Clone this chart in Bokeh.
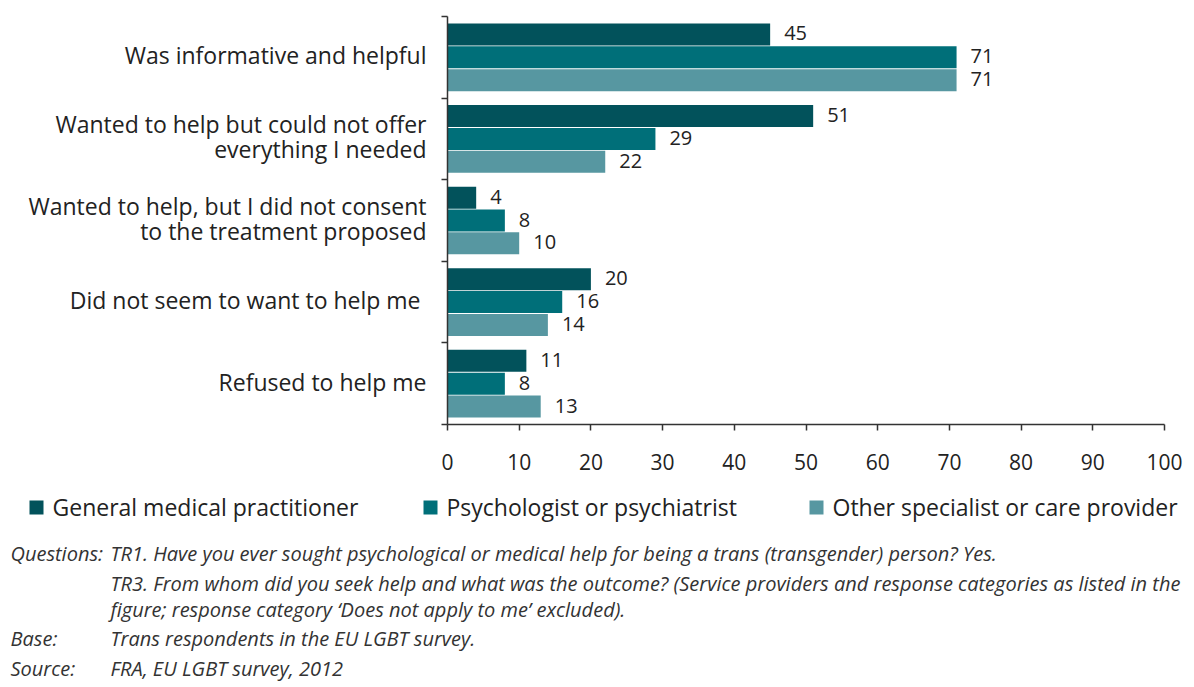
from bokeh.plotting import figure
from bokeh.models import ColumnDataSource, Range1d, FixedTicker, LinearAxis
from bokeh.core.properties import value
from bokeh.embed import file_html
from bokeh.resources import INLINE

# ---- data ----
categories = [
    "Was informative and helpful",
    "Wanted to help but could not offer\neverything I needed",
    "Wanted to help, but I did not consent\nto the treatment proposed",
    "Did not seem to want to help me ",
    "Refused to help me",
]
series_names = ["General medical practitioner", "Psychologist or psychiatrist", "Other specialist or care provider"]
general = [45, 51, 4, 20, 11]
psych = [71, 29, 8, 16, 8]
other = [71, 22, 10, 14, 13]
x_ticks = [0, 10, 20, 30, 40, 50, 60, 70, 80, 90, 100]

notes_left = ["Questions:", "", "", "Base:", "Source:"]
notes_right = [
    "TR1. Have you ever sought psychological or medical help for being a trans (transgender) person? Yes.",
    "TR3. From whom did you seek help and what was the outcome? (Service providers and response categories as listed in the",
    "figure; response category \u2018Does not apply to me\u2019 excluded).",
    "Trans respondents in the EU LGBT survey.",
    "FRA, EU LGBT survey, 2012",
]

colors = ["#02525B", "#006F79", "#5797A1"]
FONT = "Open Sans"
TXT = "#222222"
AX = "#333333"

W, H = 1192, 685
n = len(categories)
XMAX = 100
# plot area edges in canvas pixels
PL, PR, PT, PB = 447, 1164, 16, 424
sx = (PR - PL) / XMAX
sy = (PB - PT) / n

p = figure(width=W, height=H, output_backend="svg", toolbar_location=None,
           x_axis_location=None, y_axis_location=None,
           x_range=Range1d(-PL / sx, (W - PL) / sx),
           y_range=Range1d(-(H - PB) / sy, n + PT / sy),
           min_border_left=0, min_border_right=0, min_border_top=0, min_border_bottom=0)
p.outline_line_color = None
p.grid.visible = False
p.extra_x_ranges = {"px": Range1d(0, W)}
p.extra_y_ranges = {"px": Range1d(H, 0)}

offsets = [0.28, 0.0, -0.28]
for vals, off, col in zip([general, psych, other], offsets, colors):
    ys = [n - i - 0.5 + off for i in range(n)]
    src = ColumnDataSource(dict(y=ys, v=vals, lab=[str(v) for v in vals]))
    p.hbar(y="y", left=0, right="v", height=0.27, source=src, fill_color=col, line_color=None)
    p.text(x="v", y="y", text="lab", source=src, x_offset=14, y_offset=-1, text_align="left",
           text_baseline="middle", text_font=value(FONT), text_font_size="20px", text_color=TXT)

# category labels (split into lines, centred on each group)
lx, ly, lt, lo = [], [], [], []
LH = 25
for i, c in enumerate(categories):
    lines = c.split("\n")
    k = len(lines)
    for j, line in enumerate(lines):
        lx.append(0)
        ly.append(n - i - 0.5)
        lt.append(line)
        lo.append(j * LH - (k - 1) * LH / 2 - 2)
cat_src = ColumnDataSource(dict(x=lx, y=ly, t=lt, o=lo))
p.text(x="x", y="y", text="t", y_offset="o", x_offset=-21, source=cat_src,
       text_align="right", text_baseline="middle", text_font=value(FONT),
       text_font_size="23px", text_color=TXT)

xa = LinearAxis(fixed_location=0, bounds=(0, XMAX), ticker=FixedTicker(ticks=x_ticks))
ya = LinearAxis(fixed_location=0, bounds=(0, n), ticker=FixedTicker(ticks=list(range(n + 1))))
ya.major_label_overrides = {i: "" for i in range(n + 1)}
for ax in (xa, ya):
    ax.axis_line_color = AX
    ax.axis_line_width = 1.5
    ax.major_tick_line_color = AX
    ax.major_tick_line_width = 1.5
    ax.major_tick_out = 6
    ax.major_tick_in = 0
    ax.minor_tick_line_color = None
xa.major_label_text_font = FONT
xa.major_label_text_font_size = "21px"
xa.major_label_text_color = TXT
xa.major_label_standoff = 23
p.add_layout(xa, "below")
p.add_layout(ya, "left")

# legend (squares + labels), in canvas pixels
sq_x = [29, 423, 809]
leg_src = ColumnDataSource(dict(x=[x + 7 for x in sq_x], y=[507] * 3, c=colors,
                                tx=[x + 23 for x in sq_x], t=series_names))
p.rect(x="x", y="y", width=14, height=14, fill_color="c", line_color=None, source=leg_src,
       x_range_name="px", y_range_name="px")
p.text(x="tx", y="y", text="t", source=leg_src, x_range_name="px", y_range_name="px",
       y_offset=-1, text_align="left", text_baseline="middle", text_font=value(FONT),
       text_font_size="23px", text_color=TXT)

note_y = [553, 583, 609, 638, 668]
nl = ColumnDataSource(dict(x=[10] * 5, y=note_y, t=notes_left))
nr = ColumnDataSource(dict(x=[110] * 5, y=note_y, t=notes_right))
for s in (nl, nr):
    p.text(x="x", y="y", text="t", source=s, x_range_name="px", y_range_name="px",
           text_align="left", text_baseline="middle", text_font=value(FONT),
           text_font_style="italic", text_font_size="20px", text_color="#333333")

open("out.html", "w").write(file_html(p, INLINE))
